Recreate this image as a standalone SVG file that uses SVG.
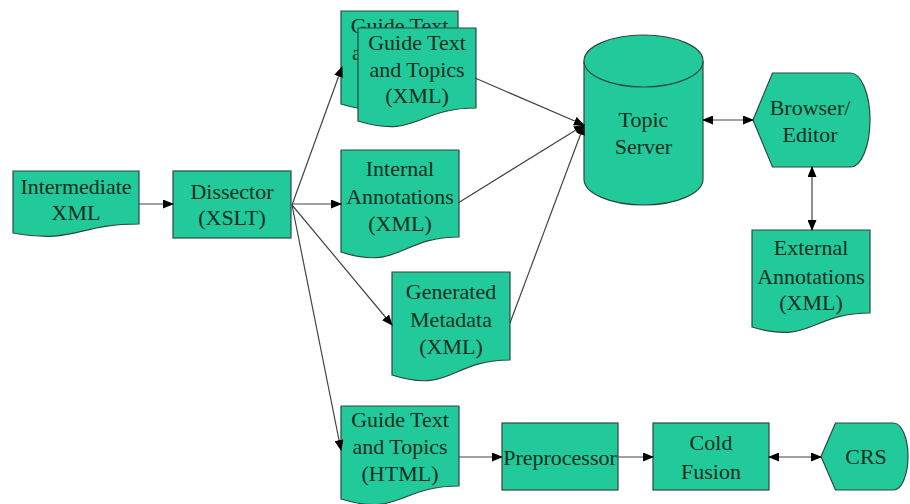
<svg xmlns="http://www.w3.org/2000/svg" width="910" height="504" viewBox="0 0 910 504">
<defs>
<style>
.n{fill:#22c99a;stroke:#2c4a3c;stroke-width:1.2}
.t{font-family:"Liberation Serif","Times New Roman",serif;font-size:22px;fill:#0f2e20;text-anchor:middle}
.c{stroke:#444;stroke-width:1.2;fill:none}
.a{marker-end:url(#ah)}
.b{marker-start:url(#ah);marker-end:url(#ah)}
</style>
<marker id="ah" markerWidth="11" markerHeight="9" refX="10" refY="4.5" orient="auto-start-reverse" markerUnits="userSpaceOnUse">
<path d="M0,0 L11,4.5 L0,9 Z" fill="#000"/>
</marker>
</defs>
<rect width="910" height="504" fill="#fff"/>

<g id="intermediate-xml">
<path class="n" d="M13,171 H139 V224 C76,224 76,244 13,233 Z"/>
<text class="t" x="76" y="194">Intermediate</text>
<text class="t" x="76" y="220">XML</text>
</g>

<g id="dissector">
<rect class="n" x="173" y="171" width="118" height="67"/>
<text class="t" x="232" y="199">Dissector</text>
<text class="t" x="232" y="225">(XSLT)</text>
</g>

<g id="guide-xml-back">
<path class="n" d="M341,11 H458 V91 C399.5,91 399.5,122 341,104 Z"/>
<text class="t" x="399.5" y="33">Guide Text</text>
<text class="t" x="399.5" y="60">and Topics</text>
<text class="t" x="399.5" y="87">(XML)</text>
</g>

<g id="guide-xml">
<path class="n" d="M358,28 H476 V108 C417,108 417,139 358,121 Z"/>
<text class="t" x="417" y="50">Guide Text</text>
<text class="t" x="417" y="77">and Topics</text>
<text class="t" x="417" y="103">(XML)</text>
</g>

<g id="internal-annotations">
<path class="n" d="M341,150 H459 V237 C400,237 400,271 341,252 Z"/>
<text class="t" x="400" y="176">Internal</text>
<text class="t" x="400" y="204">Annotations</text>
<text class="t" x="400" y="231">(XML)</text>
</g>

<g id="generated-metadata">
<path class="n" d="M392,272 H510 V360 C451,360 451,394 392,375 Z"/>
<text class="t" x="451" y="299">Generated</text>
<text class="t" x="451" y="327">Metadata</text>
<text class="t" x="451" y="354">(XML)</text>
</g>

<g id="topic-server">
<path class="n" d="M584,61 V179 A59.5,26 0 0 0 703,179 V61"/>
<ellipse class="n" cx="643.5" cy="61" rx="59.5" ry="26"/>
<text class="t" x="643.5" y="127">Topic</text>
<text class="t" x="643.5" y="154">Server</text>
</g>

<g id="browser-editor">
<path class="n" d="M753,120 L772.5,73 H850.5 A19.5,47 0 0 1 850.5,167 H772.5 Z"/>
<text class="t" x="810" y="115">Browser/</text>
<text class="t" x="810" y="142">Editor</text>
</g>

<g id="external-annotations">
<path class="n" d="M752,230 H870 V313 C811,313 811,345 752,327 Z"/>
<text class="t" x="811" y="255">External</text>
<text class="t" x="811" y="284">Annotations</text>
<text class="t" x="811" y="310">(XML)</text>
</g>

<g id="guide-html">
<path class="n" d="M341,406 H459 V486 C400,486 400,517 341,499 Z"/>
<text class="t" x="400" y="427">Guide Text</text>
<text class="t" x="400" y="454">and Topics</text>
<text class="t" x="400" y="481">(HTML)</text>
</g>

<g id="preprocessor">
<rect class="n" x="502" y="423" width="116" height="67"/>
<text class="t" x="560" y="465">Preprocessor</text>
</g>

<g id="cold-fusion">
<rect class="n" x="653" y="423" width="116" height="67"/>
<text class="t" x="711" y="450">Cold</text>
<text class="t" x="711" y="479">Fusion</text>
</g>

<g id="crs">
<path class="n" d="M821,456.5 L835.5,423 H893.5 A14.5,33.5 0 0 1 893.5,490 H835.5 Z"/>
<text class="t" x="866" y="464">CRS</text>
</g>

<g id="connectors">
<line class="c a" x1="139" y1="204" x2="173" y2="204"/>
<line class="c a" x1="292" y1="205" x2="342" y2="67"/>
<line class="c a" x1="292" y1="204" x2="341" y2="204"/>
<line class="c a" x1="292" y1="205" x2="392" y2="325"/>
<line class="c a" x1="292" y1="205" x2="341" y2="450"/>
<line class="c a" x1="475" y1="78" x2="584" y2="125"/>
<line class="c a" x1="458" y1="203" x2="584" y2="125"/>
<line class="c a" x1="510" y1="323" x2="584" y2="125"/>
<line class="c b" x1="703" y1="120" x2="753" y2="120"/>
<line class="c b" x1="812" y1="167" x2="812" y2="230"/>
<line class="c a" x1="459" y1="457" x2="502" y2="457"/>
<line class="c a" x1="618" y1="457" x2="653" y2="457"/>
<line class="c b" x1="769" y1="457" x2="821" y2="457"/>
</g>
</svg>
